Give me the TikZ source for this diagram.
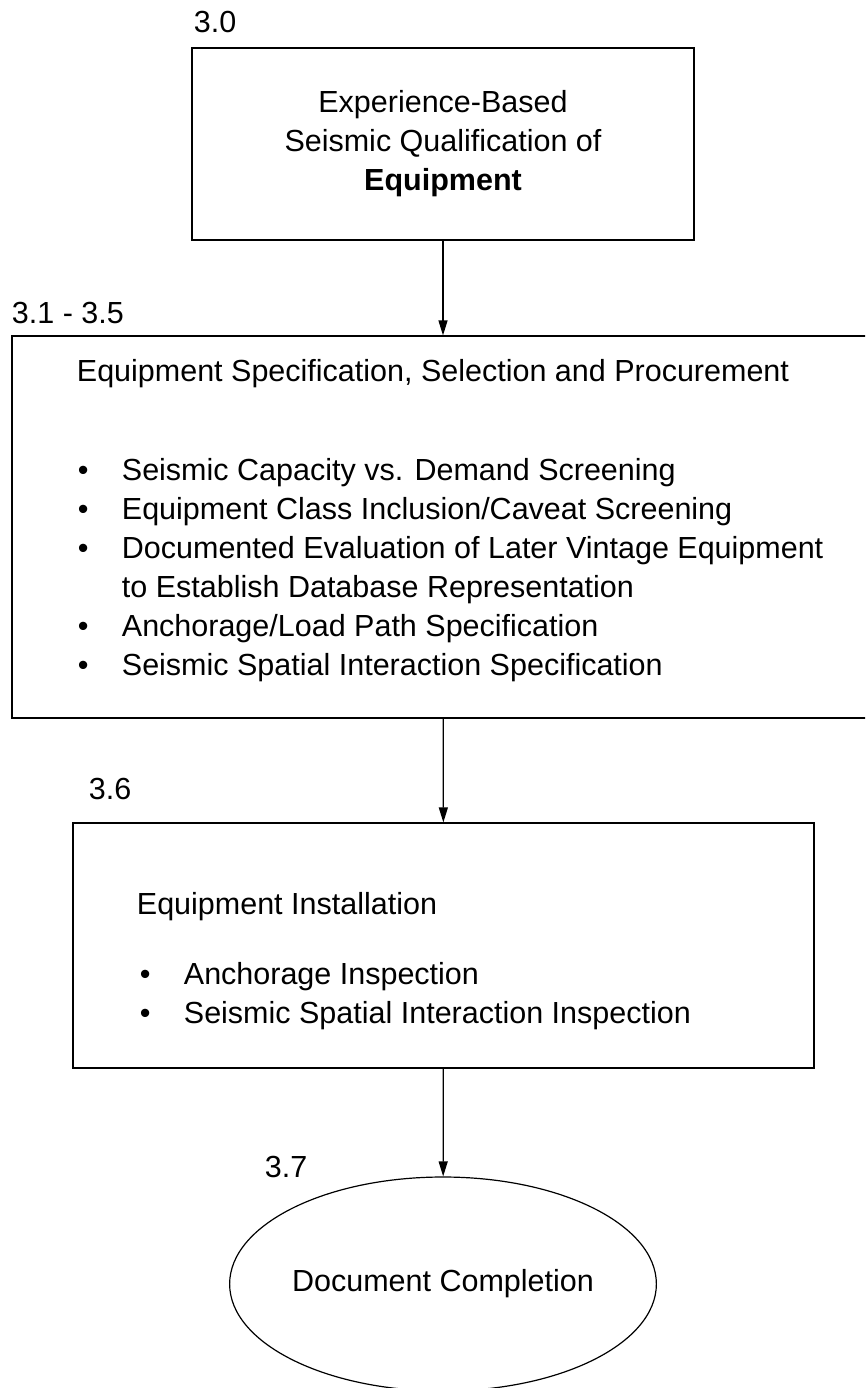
\documentclass[tikz,border=0pt]{standalone}
\usepackage{fontspec}
\setmainfont{Liberation Sans}
\usetikzlibrary{shapes.geometric,arrows.meta}

\tikzset{
	box/.style={draw, line width=1.2pt, inner sep=0pt},
	num/.style={anchor=base west},
	line/.style={anchor=base west},
	>={Triangle[length=15pt,width=9pt]},
}
% bullet with a fixed hanging indent
\newcommand{\bitem}[1]{\makebox[45pt][l]{\hspace{1pt}\textbullet}#1}

\begin{document}
\begin{tikzpicture}[x=1pt, y=-1pt, line width=1.2pt,
		every node/.style={font=\fontsize{30.5}{39}\selectfont}]
	\path[fill=white, use as bounding box] (0,0) rectangle (865,1388);
	\clip (0,0) rectangle (865,1388);

	% 3.0
	\node[num] (n30) at (190,33) {3.0};
	\node[box, minimum width=502pt, minimum height=192pt, align=center] (qual) at (443,144)
		{Experience-Based\\Seismic Qualification of\\\textbf{Equipment}};

	% 3.1 - 3.5
	\node[num] (n31) at (8,323) {3.1 - 3.5};
	\node[box, minimum width=862pt, minimum height=382pt] (spec) at (443,527) {};
	\node[line] (spec0) at (73,381) {Equipment Specification, Selection and Procurement};
	\node[line] (spec1) at (73,480) {\bitem{Seismic Capacity vs. Demand Screening}};
	\node[line] (spec2) at (73,519) {\bitem{Equipment Class Inclusion/Caveat Screening}};
	\node[line] (spec3) at (73,558) {\bitem{Documented Evaluation of Later Vintage Equipment}};
	\node[line] (spec3b) at (118,597) {to Establish Database Representation};
	\node[line] (spec4) at (73,636) {\bitem{Anchorage/Load Path Specification}};
	\node[line] (spec5) at (73,675) {\bitem{Seismic Spatial Interaction Specification}};

	% 3.6
	\node[num] (n36) at (85,799) {3.6};
	\node[box, minimum width=741pt, minimum height=245pt] (inst) at (443.5,945.5) {};
	\node[line] (inst0) at (133,914) {Equipment Installation};
	\node[line] (inst1) at (135,984) {\bitem{Anchorage Inspection}};
	\node[line] (inst2) at (135,1023) {\bitem{Seismic Spatial Interaction Inspection}};

	% 3.7
	\node[num] (n37) at (261,1177) {3.7};
	\node[draw, ellipse, line width=1.2pt, inner sep=0pt, minimum width=426pt, minimum height=214pt] (done) at (443,1284) {Document Completion};

	\draw[->] (qual) to (spec);
	\draw[->] (spec) to (inst);
	\draw[->] (inst) to (done);
\end{tikzpicture}
\end{document}
